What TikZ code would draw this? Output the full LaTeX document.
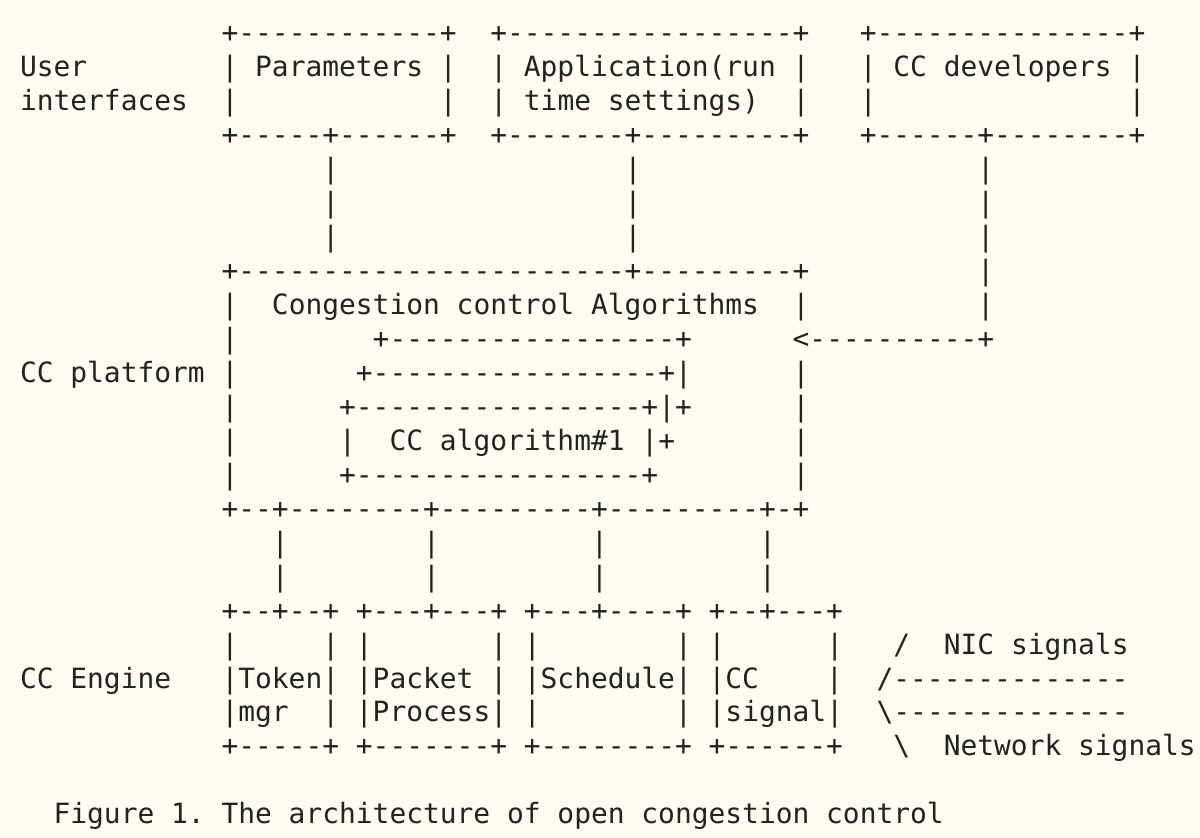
\documentclass[tikz,border=0pt]{standalone}
\usepackage{fontspec}
\setmonofont{DejaVu Sans Mono}
\ExplSyntaxOn
\cs_new:Npn \asciirep #1 #2 { \prg_replicate:nn {#1} {#2} }
\ExplSyntaxOff
\definecolor{paper}{HTML}{FEFBF3}
\definecolor{ink}{HTML}{222222}
\tikzset{asciirow/.style={anchor=base west, inner sep=0pt, outer sep=0pt, text=ink,
  font=\ttfamily\fontsize{13.95pt}{17pt}\selectfont\frenchspacing}}
\newcommand\arow[3]{\node[asciirow] (#1) at (20,{43+33.95*(#2-1)}) {#3};}
\begin{document}
\begin{tikzpicture}[x=0.5pt,y=-0.5pt]
\fill[paper] (0,0) rectangle (1200,838);
\useasboundingbox (0,0) rectangle (1200,838);
\arow{L1}{1}{\asciirep{12}{~}+\asciirep{12}{-}+~~+\asciirep{17}{-}+~~~+\asciirep{15}{-}+}
\arow{L2}{2}{User\asciirep{8}{~}|~Parameters~|~~|~Application(run~|~~~|~CC~developers~|}
\arow{L3}{3}{interfaces~~|\asciirep{12}{~}|~~|~time~settings)~~|~~~|\asciirep{15}{~}|}
\arow{L4}{4}{\asciirep{12}{~}+\asciirep{5}{-}+\asciirep{6}{-}+~~+\asciirep{7}{-}+\asciirep{9}{-}+~~~+\asciirep{6}{-}+\asciirep{8}{-}+}
\arow{L5}{5}{\asciirep{18}{~}|\asciirep{17}{~}|\asciirep{20}{~}|}
\arow{L6}{6}{\asciirep{18}{~}|\asciirep{17}{~}|\asciirep{20}{~}|}
\arow{L7}{7}{\asciirep{18}{~}|\asciirep{17}{~}|\asciirep{20}{~}|}
\arow{L8}{8}{\asciirep{12}{~}+\asciirep{23}{-}+\asciirep{9}{-}+\asciirep{10}{~}|}
\arow{L9}{9}{\asciirep{12}{~}|~~Congestion~control~Algorithms~~|\asciirep{10}{~}|}
\arow{L10}{10}{\asciirep{12}{~}|\asciirep{8}{~}+\asciirep{17}{-}+\asciirep{6}{~}<\asciirep{10}{-}+}
\arow{L11}{11}{CC~platform~|\asciirep{7}{~}+\asciirep{17}{-}+|\asciirep{6}{~}|}
\arow{L12}{12}{\asciirep{12}{~}|\asciirep{6}{~}+\asciirep{17}{-}+|+\asciirep{6}{~}|}
\arow{L13}{13}{\asciirep{12}{~}|\asciirep{6}{~}|~~CC~algorithm\#1~|+\asciirep{7}{~}|}
\arow{L14}{14}{\asciirep{12}{~}|\asciirep{6}{~}+\asciirep{17}{-}+\asciirep{8}{~}|}
\arow{L15}{15}{\asciirep{12}{~}+\asciirep{2}{-}+\asciirep{8}{-}+\asciirep{9}{-}+\asciirep{9}{-}+-+}
\arow{L16}{16}{\asciirep{15}{~}|\asciirep{8}{~}|\asciirep{9}{~}|\asciirep{9}{~}|}
\arow{L17}{17}{\asciirep{15}{~}|\asciirep{8}{~}|\asciirep{9}{~}|\asciirep{9}{~}|}
\arow{L18}{18}{\asciirep{12}{~}+\asciirep{2}{-}+\asciirep{2}{-}+~+\asciirep{3}{-}+\asciirep{3}{-}+~+\asciirep{3}{-}+\asciirep{4}{-}+~+\asciirep{2}{-}+\asciirep{3}{-}+}
\arow{L19}{19}{\asciirep{12}{~}|\asciirep{5}{~}|~|\asciirep{7}{~}|~|\asciirep{8}{~}|~|\asciirep{6}{~}|~~~/~~NIC~signals}
\arow{L20}{20}{CC~Engine~~~|Token|~|Packet~|~|Schedule|~|CC~~~~|~~/\asciirep{14}{-}}
\arow{L21}{21}{\asciirep{12}{~}|mgr~~|~|Process|~|\asciirep{8}{~}|~|signal|~~\textbackslash\asciirep{14}{-}}
\arow{L22}{22}{\asciirep{12}{~}+\asciirep{5}{-}+~+\asciirep{7}{-}+~+\asciirep{8}{-}+~+\asciirep{6}{-}+~~~\textbackslash~~Network~signals}
\arow{L24}{24}{~~Figure~1.~The~architecture~of~open~congestion~control}
\end{tikzpicture}
\end{document}
